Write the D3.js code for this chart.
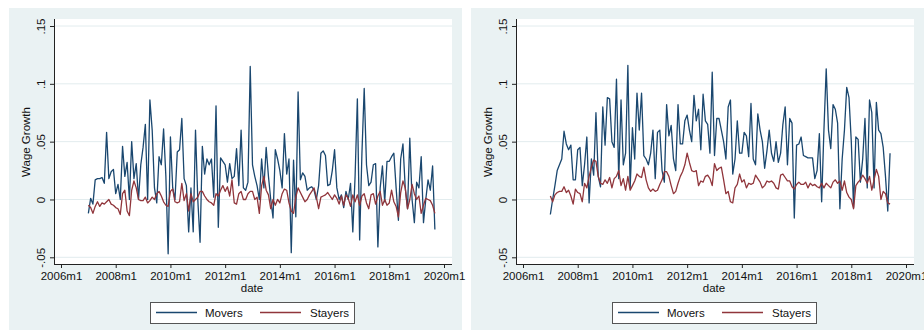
<!DOCTYPE html>
<html>
<head>
<meta charset="utf-8">
<script src="https://cdn.jsdelivr.net/npm/d3@7"></script>
<style>
  html, body { margin: 0; padding: 0; background: #ffffff; }
  svg { display: block; font-family: "Liberation Sans", Arial, sans-serif; }
</style>
</head>
<body>
<svg id="chart" width="924" height="333"></svg>
<script>
// Monthly wage growth, first month of both series is 2007m1 (month 12 counted from 2006m1)
const seriesStart = 12;

// Left panel
const leftMovers = [
  -0.012, 0.001, -0.004, 0.017, 0.018, 0.018, 0.019, 0.014, 0.058, 0.018, 0.024, 0.026,
  0.005, 0.013, 0.000, 0.046, 0.020, 0.032, 0.000, 0.050, 0.018, 0.031, 0.000, 0.030,
  0.045, 0.065, 0.000, 0.086, 0.060, 0.010, -0.003, 0.037, 0.030, 0.061, 0.020, -0.047,
  0.054, 0.010, 0.000, 0.041, 0.043, 0.070, 0.018, 0.012, -0.028, 0.010, -0.028, 0.060,
  0.000, -0.037, 0.046, 0.022, 0.035, 0.030, 0.035, 0.002, 0.081, -0.024, 0.036, 0.033,
  0.030, 0.015, 0.031, 0.018, 0.020, 0.044, 0.012, 0.060, 0.010, 0.008, 0.015, 0.115,
  0.030, 0.020, 0.012, 0.000, 0.035, 0.010, 0.045, 0.020, 0.000, -0.016, 0.043, 0.035,
  0.025, 0.010, 0.057, 0.022, 0.035, -0.046, 0.034, -0.015, 0.093, 0.017, 0.023, 0.020,
  0.008, 0.010, 0.011, 0.008, 0.000, 0.012, 0.040, 0.042, 0.038, 0.012, 0.013, 0.025,
  0.043, 0.010, 0.000, 0.004, -0.007, 0.007, 0.000, 0.014, -0.028, 0.020, 0.087, -0.035,
  0.040, 0.096, 0.030, 0.012, 0.015, 0.030, 0.031, -0.041, 0.010, 0.029, -0.002, 0.033,
  0.033, 0.037, 0.040, 0.010, -0.018, 0.035, 0.048, 0.010, -0.008, 0.053, 0.000, -0.020,
  0.015, 0.010, 0.037, -0.020, 0.000, 0.017, 0.008, 0.029, -0.026
];
const leftStayers = [
  -0.005, -0.007, -0.012, -0.006, -0.002, -0.006, -0.003, -0.004, -0.002, 0.000, -0.004, -0.005,
  -0.007, -0.008, -0.013, 0.005, 0.008, -0.010, -0.014, 0.008, 0.016, 0.010, 0.000, -0.001,
  -0.001, 0.002, -0.003, -0.001, 0.002, 0.000, 0.005, 0.007, 0.003, -0.002, -0.005, -0.006,
  0.007, 0.009, -0.002, -0.003, -0.002, 0.014, -0.001, 0.005, -0.010, 0.005, -0.002, 0.000,
  0.002, 0.007, 0.007, 0.003, 0.000, -0.002, -0.003, -0.005, 0.005, 0.003, 0.008, 0.012,
  0.007, 0.011, 0.003, 0.017, -0.003, -0.004, 0.005, 0.007, 0.000, 0.000, 0.005, 0.007,
  0.007, 0.000, 0.002, -0.012, 0.012, 0.020, 0.008, 0.004, -0.008, 0.000, -0.005, 0.000,
  -0.003, 0.005, 0.009, 0.008, -0.003, -0.010, -0.012, 0.002, 0.010, 0.006, 0.002, -0.002,
  0.000, 0.004, 0.007, 0.010, 0.002, -0.008, 0.002, 0.003, 0.004, 0.006, 0.003, 0.000,
  0.004, 0.001, -0.004, 0.003, -0.005, 0.004, 0.001, -0.006, 0.004, -0.002, 0.004, -0.005,
  0.003, 0.005, -0.003, -0.008, 0.004, 0.005, -0.004, 0.003, 0.007, -0.005, 0.000, -0.005,
  -0.003, 0.008, -0.002, -0.006, -0.015, 0.006, 0.016, 0.010, -0.008, 0.000, 0.013, 0.005,
  0.000, 0.003, -0.012, -0.005, 0.001, 0.000, -0.001, -0.005, -0.012
];

// Right panel
const rightMovers = [
  -0.013, 0.000, 0.012, 0.025, 0.030, 0.035, 0.059, 0.048, 0.043, 0.047, 0.017, 0.017,
  0.043, 0.045, 0.012, 0.030, 0.054, -0.003, 0.035, 0.021, 0.075, 0.020, 0.011, 0.080,
  0.047, 0.088, 0.087, 0.050, 0.045, 0.104, 0.018, 0.086, 0.030, 0.040, 0.116, 0.010,
  0.062, 0.035, 0.092, 0.060, 0.092, 0.038, 0.035, 0.030, 0.040, 0.060, 0.018, 0.058,
  0.060, 0.025, 0.015, 0.082, 0.055, 0.064, 0.035, 0.025, 0.082, 0.048, 0.048, 0.068,
  0.073, 0.060, 0.050, 0.090, 0.068, 0.078, 0.043, 0.091, 0.068, 0.065, 0.040, 0.110,
  0.038, 0.070, 0.070, 0.060, 0.050, 0.035, 0.080, 0.086, 0.022, 0.035, 0.068, 0.040,
  0.040, 0.058, 0.055, 0.037, 0.083, 0.035, 0.030, 0.074, 0.060, 0.050, 0.027, 0.042,
  0.060, 0.040, 0.033, 0.050, 0.032, 0.040, 0.065, 0.080, 0.030, 0.070, 0.066, -0.016,
  0.047, 0.048, 0.054, 0.038, 0.037, 0.036, 0.036, 0.036, 0.018, 0.025, 0.057, -0.002,
  0.060, 0.113, 0.060, 0.044, 0.082, 0.078, 0.066, -0.008, 0.035, 0.060, 0.097, 0.088,
  0.050, -0.007, 0.054, 0.052, 0.015, 0.035, 0.070, 0.010, 0.086, 0.075, 0.010, 0.084,
  0.060, 0.057, 0.045, 0.020, -0.010, 0.040
];
const rightStayers = [
  0.003, -0.002, 0.004, 0.006, 0.007, 0.007, 0.011, 0.006, 0.008, 0.003, -0.004, 0.009,
  0.006, 0.005, -0.002, 0.014, 0.010, 0.020, 0.028, 0.034, 0.033, 0.020, 0.014, 0.013,
  0.017, 0.014, 0.019, 0.010, 0.018, 0.020, 0.025, 0.012, 0.018, 0.008, 0.020, 0.008,
  0.012, 0.016, 0.022, 0.020, 0.019, 0.028, 0.017, 0.010, 0.007, 0.009, 0.007, 0.008,
  0.013, 0.017, 0.024, 0.024, 0.020, 0.012, 0.005, 0.007, 0.014, 0.020, 0.024, 0.030,
  0.040, 0.032, 0.025, 0.024, 0.025, 0.012, 0.016, 0.015, 0.020, 0.021, 0.018, 0.012,
  0.031, 0.025, 0.027, 0.028, 0.017, 0.005, 0.007, -0.002, -0.003, 0.010, 0.013, 0.022,
  0.015, 0.017, 0.010, 0.014, 0.013, 0.014, 0.021, 0.018, 0.015, 0.010, 0.012, 0.016,
  0.015, 0.016, 0.014, 0.010, 0.009, 0.021, 0.022, 0.019, 0.016, 0.016, 0.011, 0.009,
  0.013, 0.015, 0.013, 0.013, 0.015, 0.010, 0.014, 0.012, 0.013, 0.011, 0.010, 0.014,
  0.010, 0.014, 0.012, 0.010, 0.015, 0.017, 0.014, 0.016, 0.008, 0.016, 0.006, 0.002,
  0.000, -0.008, 0.012, 0.015, 0.017, 0.021, 0.018, 0.014, 0.020, 0.008, 0.017, 0.026,
  0.020, 0.000, 0.007, 0.005, -0.003, -0.004
];

// Axis ticks (x in months since 2006m1)
const xTickMonths = [0, 24, 48, 72, 96, 120, 144, 168];
const xTickLabels = ["2006m1", "2008m1", "2010m1", "2012m1", "2014m1", "2016m1", "2018m1", "2020m1"];
const yTickValues = [-0.05, 0, 0.05, 0.1, 0.15];
const yTickLabels = ["-.05", "0", ".05", ".1", ".15"];
const seriesNames = ["Movers", "Stayers"];
const seriesColors = ["#1a476f", "#90353b"];

const svg = d3.select("#chart");

const x = d3.scaleLinear().domain([0, 168]).range([61, 444]);
const y = d3.scaleLinear().domain([-0.05, 0.15]).range([257.3, 26]);

function drawPanel(offsetX, movers, stayers) {
  const g = svg.append("g").attr("transform", `translate(${offsetX},0)`);

  // graph region and plot region
  g.append("rect").attr("x", 9).attr("y", 8).attr("width", 453).attr("height", 322)
    .attr("fill", "#eaf2f3");
  g.append("rect").attr("x", 54).attr("y", 19).attr("width", 398).attr("height", 245)
    .attr("fill", "#ffffff");

  // horizontal grid
  g.append("g").selectAll("line").data(yTickValues).join("line")
    .attr("x1", 55).attr("x2", 452)
    .attr("y1", d => y(d)).attr("y2", d => y(d))
    .attr("stroke", "#e2ecee").attr("stroke-width", 1);

  // y axis
  const yAxis = g.append("g").attr("transform", "translate(54,0)")
    .call(d3.axisLeft(y).tickValues(yTickValues).tickSize(4).tickSizeOuter(0)
      .tickFormat((d, i) => yTickLabels[i]));
  yAxis.select(".domain").attr("d", "M0.5,19V264.5").attr("stroke", "#222");
  yAxis.selectAll(".tick line").attr("stroke", "#222");
  yAxis.selectAll(".tick text")
    .attr("transform", "rotate(-90)")
    .attr("x", 0).attr("y", -9).attr("dy", null)
    .attr("text-anchor", "middle")
    .attr("font-size", "11.5px").attr("fill", "#111")
    .attr("font-family", "Liberation Sans, Arial, sans-serif");

  // x axis
  const xAxis = g.append("g").attr("transform", "translate(0,264)")
    .call(d3.axisBottom(x).tickValues(xTickMonths).tickSize(4).tickSizeOuter(0)
      .tickFormat((d, i) => xTickLabels[i]));
  xAxis.select(".domain").attr("d", "M54,0.5H452").attr("stroke", "#222");
  xAxis.selectAll(".tick line").attr("stroke", "#222");
  xAxis.selectAll(".tick text")
    .attr("y", 16).attr("dy", null)
    .attr("font-size", "11.5px").attr("fill", "#111")
    .attr("font-family", "Liberation Sans, Arial, sans-serif");

  // axis titles
  g.append("text").attr("transform", "translate(30,142) rotate(-90)")
    .attr("text-anchor", "middle").attr("font-size", "11.5px").attr("fill", "#111")
    .text("Wage Growth");
  g.append("text").attr("x", 252).attr("y", 292)
    .attr("text-anchor", "middle").attr("font-size", "11.5px").attr("fill", "#111")
    .text("date");

  // series
  const line = d3.line()
    .x((d, i) => x(seriesStart + i))
    .y(d => y(d));
  [movers, stayers].forEach((vals, k) => {
    g.append("path").datum(vals)
      .attr("d", line)
      .attr("fill", "none")
      .attr("stroke", seriesColors[k])
      .attr("stroke-width", 1.3)
      .attr("stroke-linejoin", "round");
  });

  // legend
  g.append("rect").attr("x", 150.5).attr("y", 302.5).attr("width", 204).attr("height", 21)
    .attr("fill", "#ffffff").attr("stroke", "#555").attr("stroke-width", 1);
  const legendLineX = [156, 260];
  const legendTextX = [205, 310];
  seriesNames.forEach((name, k) => {
    g.append("line")
      .attr("x1", legendLineX[k]).attr("x2", legendLineX[k] + 41)
      .attr("y1", 312.5).attr("y2", 312.5)
      .attr("stroke", seriesColors[k]).attr("stroke-width", 1.3);
    g.append("text").attr("x", legendTextX[k]).attr("y", 317)
      .attr("font-size", "11.5px").attr("fill", "#111")
      .text(name);
  });
}

drawPanel(0, leftMovers, leftStayers);
drawPanel(462, rightMovers, rightStayers);
</script>
</body>
</html>
